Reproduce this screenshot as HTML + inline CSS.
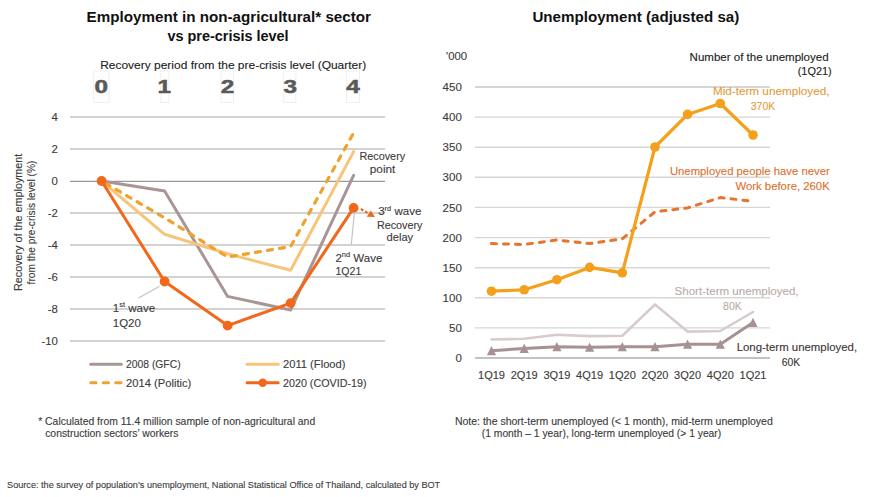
<!DOCTYPE html>
<html><head><meta charset="utf-8"><title>Employment and unemployment</title>
<style>
html,body{margin:0;padding:0;background:#fff;}
body{width:870px;height:497px;overflow:hidden;}
svg{display:block;font-family:"Liberation Sans", Arial, sans-serif;}
</style></head>
<body>
<svg width="870" height="497" viewBox="0 0 870 497">
<rect width="870" height="497" fill="#fff"/>
<text x="86.6" y="22.0" font-size="15" textLength="284.4" lengthAdjust="spacingAndGlyphs" font-weight="bold" fill="#111">Employment in non-agricultural* sector</text>
<text x="167.4" y="40.5" font-size="15" textLength="121.2" lengthAdjust="spacingAndGlyphs" font-weight="bold" fill="#111">vs pre-crisis level</text>
<text x="100.2" y="68.8" font-size="11.8" textLength="266.0" lengthAdjust="spacingAndGlyphs" fill="#222" stroke="#222" stroke-width="0.12">Recovery period from the pre-crisis level (Quarter)</text>
<rect x="93.8" y="71.0" width="15.2" height="31.5" fill="none" stroke="#efefef" stroke-width="1"/>
<text transform="translate(101.3,93.2) scale(1.35,1)" text-anchor="middle" font-size="18" font-weight="bold" fill="#595959" stroke="#595959" stroke-width="0.5">0</text>
<rect x="160.8" y="71.0" width="8.2" height="31.5" fill="none" stroke="#efefef" stroke-width="1"/>
<text transform="translate(164.2,93.2) scale(1.35,1)" text-anchor="middle" font-size="18" font-weight="bold" fill="#595959" stroke="#595959" stroke-width="0.5">1</text>
<rect x="221.2" y="71.0" width="12.2" height="31.5" fill="none" stroke="#efefef" stroke-width="1"/>
<text transform="translate(227.5,93.2) scale(1.35,1)" text-anchor="middle" font-size="18" font-weight="bold" fill="#595959" stroke="#595959" stroke-width="0.5">2</text>
<rect x="283.7" y="71.0" width="12.2" height="31.5" fill="none" stroke="#efefef" stroke-width="1"/>
<text transform="translate(290.3,93.2) scale(1.35,1)" text-anchor="middle" font-size="18" font-weight="bold" fill="#595959" stroke="#595959" stroke-width="0.5">3</text>
<rect x="346.6" y="71.0" width="12.8" height="31.5" fill="none" stroke="#efefef" stroke-width="1"/>
<text transform="translate(353.0,93.2) scale(1.35,1)" text-anchor="middle" font-size="18" font-weight="bold" fill="#595959" stroke="#595959" stroke-width="0.5">4</text>
<line x1="70" y1="117" x2="385" y2="117" stroke="#d2d2d2" stroke-width="2"/>
<text x="57.9" y="121.1" font-size="11.4" text-anchor="end" fill="#3b3b3b" stroke="#3b3b3b" stroke-width="0.12">4</text>
<line x1="70" y1="149" x2="385" y2="149" stroke="#d2d2d2" stroke-width="2"/>
<text x="57.9" y="153.1" font-size="11.4" text-anchor="end" fill="#3b3b3b" stroke="#3b3b3b" stroke-width="0.12">2</text>
<line x1="70" y1="181.3" x2="385" y2="181.3" stroke="#999" stroke-width="1.3"/>
<text x="57.9" y="185.1" font-size="11.4" text-anchor="end" fill="#3b3b3b" stroke="#3b3b3b" stroke-width="0.12">0</text>
<line x1="70" y1="213" x2="385" y2="213" stroke="#d2d2d2" stroke-width="2"/>
<text x="57.9" y="217.1" font-size="11.4" text-anchor="end" fill="#3b3b3b" stroke="#3b3b3b" stroke-width="0.12">-2</text>
<line x1="70" y1="245" x2="385" y2="245" stroke="#d2d2d2" stroke-width="2"/>
<text x="57.9" y="249.1" font-size="11.4" text-anchor="end" fill="#3b3b3b" stroke="#3b3b3b" stroke-width="0.12">-4</text>
<line x1="70" y1="277" x2="385" y2="277" stroke="#d2d2d2" stroke-width="2"/>
<text x="57.9" y="281.1" font-size="11.4" text-anchor="end" fill="#3b3b3b" stroke="#3b3b3b" stroke-width="0.12">-6</text>
<line x1="70" y1="309" x2="385" y2="309" stroke="#d2d2d2" stroke-width="2"/>
<text x="57.9" y="313.1" font-size="11.4" text-anchor="end" fill="#3b3b3b" stroke="#3b3b3b" stroke-width="0.12">-8</text>
<line x1="70" y1="341" x2="385" y2="341" stroke="#d2d2d2" stroke-width="2"/>
<text x="57.9" y="345.1" font-size="11.4" text-anchor="end" fill="#3b3b3b" stroke="#3b3b3b" stroke-width="0.12">-10</text>
<text transform="translate(21.9,222.4) rotate(-90)" text-anchor="middle" font-size="11.2" fill="#3b3b3b" stroke="#3b3b3b" stroke-width="0.12" textLength="137.3" lengthAdjust="spacingAndGlyphs">Recovery of the employment</text>
<text transform="translate(35.2,222.5) rotate(-90)" text-anchor="middle" font-size="11.2" fill="#3b3b3b" stroke="#3b3b3b" stroke-width="0.12" textLength="123.8" lengthAdjust="spacingAndGlyphs">from the pre-crisis level (%)</text>
<polyline points="101.6,181.0 164.6,191.1 227.6,296.4 290.6,310.0 353.6,175.4" fill="none" stroke="#a89696" stroke-width="3" stroke-linecap="round" stroke-linejoin="round"/>
<polyline points="101.6,181.0 164.6,234.3 227.6,253.8 290.6,270.3 353.6,151.6" fill="none" stroke="#f7c57a" stroke-width="3" stroke-linecap="round" stroke-linejoin="round"/>
<polyline points="352.6,134.7 290.6,246.6 227.6,257.0 164.6,217.8 101.6,181.0" fill="none" stroke="#f0a22e" stroke-width="3.2" stroke-linecap="round" stroke-linejoin="round" stroke-dasharray="5,7.2"/>
<line x1="159.5" y1="286.3" x2="138.6" y2="298.1" stroke="#c4c4c4" stroke-width="1.2"/>
<line x1="354.4" y1="212.7" x2="351.3" y2="244.3" stroke="#c4c4c4" stroke-width="1.2"/>
<polyline points="101.6,181.0 164.6,281.5 227.6,325.6 290.6,303.1 353.6,207.9" fill="none" stroke="#f2671a" stroke-width="3" stroke-linecap="round" stroke-linejoin="round"/>
<circle cx="101.6" cy="181.0" r="4.9" fill="#f2671a"/>
<circle cx="164.6" cy="281.5" r="4.9" fill="#f2671a"/>
<circle cx="227.6" cy="325.6" r="4.9" fill="#f2671a"/>
<circle cx="290.6" cy="303.1" r="4.9" fill="#f2671a"/>
<circle cx="353.6" cy="207.9" r="4.9" fill="#f2671a"/>
<line x1="360.8" y1="209.0" x2="368.2" y2="213.2" stroke="#f2671a" stroke-width="2.1" stroke-dasharray="3,1.8"/>
<polygon points="370.8,210.6 366.8,216.8 375.0,217.0" fill="#f2671a"/>
<text x="359.4" y="159.9" font-size="11.5" textLength="45.8" lengthAdjust="spacingAndGlyphs" fill="#3b3b3b" stroke="#3b3b3b" stroke-width="0.12">Recovery</text>
<text x="369.8" y="173.2" font-size="11.5" textLength="25.5" lengthAdjust="spacingAndGlyphs" fill="#3b3b3b" stroke="#3b3b3b" stroke-width="0.12">point</text>
<text x="378.2" y="215.2" font-size="11.5" fill="#3b3b3b" stroke="#3b3b3b" stroke-width="0.12">3<tspan font-size="7.5" dy="-4.2">rd</tspan><tspan dy="4.2"> wave</tspan></text>
<text x="376.9" y="228.5" font-size="11.5" textLength="45.6" lengthAdjust="spacingAndGlyphs" fill="#3b3b3b" stroke="#3b3b3b" stroke-width="0.12">Recovery</text>
<text x="386.6" y="241.1" font-size="11.5" textLength="26.6" lengthAdjust="spacingAndGlyphs" fill="#3b3b3b" stroke="#3b3b3b" stroke-width="0.12">delay</text>
<text x="335.4" y="261.5" font-size="11.5" fill="#3b3b3b" stroke="#3b3b3b" stroke-width="0.12">2<tspan font-size="7.5" dy="-4.2">nd</tspan><tspan dy="4.2"> Wave</tspan></text>
<text x="335.4" y="275.1" font-size="11.5" textLength="25.9" lengthAdjust="spacingAndGlyphs" fill="#3b3b3b" stroke="#3b3b3b" stroke-width="0.12">1Q21</text>
<text x="112.8" y="311.6" font-size="11.5" fill="#3b3b3b" stroke="#3b3b3b" stroke-width="0.12">1<tspan font-size="7.5" dy="-4.2">st</tspan><tspan dy="4.2"> wave</tspan></text>
<text x="112.8" y="326.9" font-size="11.5" textLength="28.0" lengthAdjust="spacingAndGlyphs" fill="#3b3b3b" stroke="#3b3b3b" stroke-width="0.12">1Q20</text>
<line x1="90.7" y1="364.3" x2="121.2" y2="364.3" stroke="#a89696" stroke-width="3" stroke-linecap="round"/>
<text x="126.0" y="368.4" font-size="11.2" textLength="54.6" lengthAdjust="spacingAndGlyphs" fill="#3b3b3b" stroke="#3b3b3b" stroke-width="0.12">2008 (GFC)</text>
<line x1="247.1" y1="364.3" x2="278.2" y2="364.3" stroke="#f7c57a" stroke-width="3" stroke-linecap="round"/>
<text x="283.0" y="368.4" font-size="11.2" textLength="62.5" lengthAdjust="spacingAndGlyphs" fill="#3b3b3b" stroke="#3b3b3b" stroke-width="0.12">2011 (Flood)</text>
<line x1="90.7" y1="382.7" x2="121" y2="382.7" stroke="#f0a22e" stroke-width="3" stroke-linecap="round" stroke-dasharray="5.3,7.2"/>
<text x="126.0" y="386.8" font-size="11.2" textLength="65.3" lengthAdjust="spacingAndGlyphs" fill="#3b3b3b" stroke="#3b3b3b" stroke-width="0.12">2014 (Politic)</text>
<line x1="247.1" y1="382.7" x2="278.2" y2="382.7" stroke="#f2671a" stroke-width="3" stroke-linecap="round"/>
<circle cx="262.7" cy="382.7" r="4.2" fill="#f2671a"/>
<text x="283.0" y="386.8" font-size="11.2" textLength="83.5" lengthAdjust="spacingAndGlyphs" fill="#3b3b3b" stroke="#3b3b3b" stroke-width="0.12">2020 (COVID-19)</text>
<text x="38.2" y="425.2" font-size="10.2" textLength="277.0" lengthAdjust="spacingAndGlyphs" fill="#3b3b3b" stroke="#3b3b3b" stroke-width="0.12">* Calculated from 11.4 million sample of non-agricultural and</text>
<text x="45.2" y="437.4" font-size="10.2" textLength="133.3" lengthAdjust="spacingAndGlyphs" fill="#3b3b3b" stroke="#3b3b3b" stroke-width="0.12">construction sectors’ workers</text>
<text x="7.1" y="488.2" font-size="9.6" textLength="433.1" lengthAdjust="spacingAndGlyphs" fill="#3b3b3b" stroke="#3b3b3b" stroke-width="0.12">Source: the survey of population’s unemployment, National Statistical Office of Thailand, calculated by BOT</text>
<text x="532.4" y="22.0" font-size="15" textLength="206.9" lengthAdjust="spacingAndGlyphs" font-weight="bold" fill="#111">Unemployment (adjusted sa)</text>
<text x="445.7" y="60.4" font-size="11.5" textLength="21.4" lengthAdjust="spacingAndGlyphs" fill="#3b3b3b" stroke="#3b3b3b" stroke-width="0.12">’000</text>
<text x="689.6" y="60.6" font-size="11.2" textLength="139.0" lengthAdjust="spacingAndGlyphs" fill="#222" stroke="#222" stroke-width="0.12">Number of the unemployed</text>
<text x="797.7" y="75.3" font-size="11.2" textLength="34.0" lengthAdjust="spacingAndGlyphs" fill="#222" stroke="#222" stroke-width="0.12">(1Q21)</text>
<line x1="475" y1="358.0" x2="770" y2="358.0" stroke="#c2c2c2" stroke-width="1.8"/>
<text x="461.8" y="362.1" font-size="11.5" text-anchor="end" fill="#3b3b3b" stroke="#3b3b3b" stroke-width="0.12">0</text>
<line x1="475" y1="327.9" x2="770" y2="327.9" stroke="#d6d6d6" stroke-width="1.4"/>
<text x="461.8" y="332.0" font-size="11.5" text-anchor="end" fill="#3b3b3b" stroke="#3b3b3b" stroke-width="0.12">50</text>
<line x1="475" y1="297.8" x2="770" y2="297.8" stroke="#d6d6d6" stroke-width="1.4"/>
<text x="461.8" y="301.9" font-size="11.5" text-anchor="end" fill="#3b3b3b" stroke="#3b3b3b" stroke-width="0.12">100</text>
<line x1="475" y1="267.7" x2="770" y2="267.7" stroke="#d6d6d6" stroke-width="1.4"/>
<text x="461.8" y="271.8" font-size="11.5" text-anchor="end" fill="#3b3b3b" stroke="#3b3b3b" stroke-width="0.12">150</text>
<line x1="475" y1="237.6" x2="770" y2="237.6" stroke="#d6d6d6" stroke-width="1.4"/>
<text x="461.8" y="241.7" font-size="11.5" text-anchor="end" fill="#3b3b3b" stroke="#3b3b3b" stroke-width="0.12">200</text>
<line x1="475" y1="207.4" x2="770" y2="207.4" stroke="#d6d6d6" stroke-width="1.4"/>
<text x="461.8" y="211.5" font-size="11.5" text-anchor="end" fill="#3b3b3b" stroke="#3b3b3b" stroke-width="0.12">250</text>
<line x1="475" y1="177.3" x2="770" y2="177.3" stroke="#d6d6d6" stroke-width="1.4"/>
<text x="461.8" y="181.4" font-size="11.5" text-anchor="end" fill="#3b3b3b" stroke="#3b3b3b" stroke-width="0.12">300</text>
<line x1="475" y1="147.2" x2="770" y2="147.2" stroke="#d6d6d6" stroke-width="1.4"/>
<text x="461.8" y="151.3" font-size="11.5" text-anchor="end" fill="#3b3b3b" stroke="#3b3b3b" stroke-width="0.12">350</text>
<line x1="475" y1="117.1" x2="770" y2="117.1" stroke="#d6d6d6" stroke-width="1.4"/>
<text x="461.8" y="121.2" font-size="11.5" text-anchor="end" fill="#3b3b3b" stroke="#3b3b3b" stroke-width="0.12">400</text>
<line x1="475" y1="87.0" x2="770" y2="87.0" stroke="#d6d6d6" stroke-width="1.8"/>
<text x="461.8" y="91.1" font-size="11.5" text-anchor="end" fill="#3b3b3b" stroke="#3b3b3b" stroke-width="0.12">450</text>
<text x="491.5" y="378.9" font-size="11.2" text-anchor="middle" textLength="27.0" lengthAdjust="spacingAndGlyphs" fill="#3b3b3b" stroke="#3b3b3b" stroke-width="0.12">1Q19</text>
<text x="524.2" y="378.9" font-size="11.2" text-anchor="middle" textLength="27.0" lengthAdjust="spacingAndGlyphs" fill="#3b3b3b" stroke="#3b3b3b" stroke-width="0.12">2Q19</text>
<text x="556.9" y="378.9" font-size="11.2" text-anchor="middle" textLength="27.0" lengthAdjust="spacingAndGlyphs" fill="#3b3b3b" stroke="#3b3b3b" stroke-width="0.12">3Q19</text>
<text x="589.6" y="378.9" font-size="11.2" text-anchor="middle" textLength="27.0" lengthAdjust="spacingAndGlyphs" fill="#3b3b3b" stroke="#3b3b3b" stroke-width="0.12">4Q19</text>
<text x="622.3" y="378.9" font-size="11.2" text-anchor="middle" textLength="27.0" lengthAdjust="spacingAndGlyphs" fill="#3b3b3b" stroke="#3b3b3b" stroke-width="0.12">1Q20</text>
<text x="655.0" y="378.9" font-size="11.2" text-anchor="middle" textLength="27.0" lengthAdjust="spacingAndGlyphs" fill="#3b3b3b" stroke="#3b3b3b" stroke-width="0.12">2Q20</text>
<text x="687.6" y="378.9" font-size="11.2" text-anchor="middle" textLength="27.0" lengthAdjust="spacingAndGlyphs" fill="#3b3b3b" stroke="#3b3b3b" stroke-width="0.12">3Q20</text>
<text x="720.3" y="378.9" font-size="11.2" text-anchor="middle" textLength="27.0" lengthAdjust="spacingAndGlyphs" fill="#3b3b3b" stroke="#3b3b3b" stroke-width="0.12">4Q20</text>
<text x="753.0" y="378.9" font-size="11.2" text-anchor="middle" textLength="27.0" lengthAdjust="spacingAndGlyphs" fill="#3b3b3b" stroke="#3b3b3b" stroke-width="0.12">1Q21</text>
<polyline points="491.5,339.5 524.2,338.8 556.9,334.7 589.6,336.1 622.3,335.8 655.0,304.5 687.6,331.6 720.3,331.0 753.0,312.0" fill="none" stroke="#d8cbcb" stroke-width="2.6" stroke-linecap="round" stroke-linejoin="round"/>
<polyline points="491.5,350.8 524.2,348.4 556.9,346.7 589.6,347.3 622.3,346.7 655.0,346.7 687.6,344.3 720.3,344.3 753.0,322.6" fill="none" stroke="#a69292" stroke-width="3" stroke-linecap="round" stroke-linejoin="round"/>
<polygon points="491.5,346.0 486.9,355.3 496.1,355.3" fill="#a69292"/>
<polygon points="524.2,343.6 519.6,352.9 528.8,352.9" fill="#a69292"/>
<polygon points="556.9,341.9 552.3,351.2 561.5,351.2" fill="#a69292"/>
<polygon points="589.6,342.5 585.0,351.8 594.2,351.8" fill="#a69292"/>
<polygon points="622.3,341.9 617.7,351.2 626.9,351.2" fill="#a69292"/>
<polygon points="655.0,341.9 650.4,351.2 659.6,351.2" fill="#a69292"/>
<polygon points="687.6,339.5 683.0,348.8 692.2,348.8" fill="#a69292"/>
<polygon points="720.3,339.5 715.7,348.8 724.9,348.8" fill="#a69292"/>
<polygon points="753.0,317.8 748.4,327.1 757.6,327.1" fill="#a69292"/>
<polyline points="491.5,243.6 524.2,244.5 556.9,240.0 589.6,243.6 622.3,238.8 655.0,211.8 687.6,207.9 720.3,197.6 753.0,201.3" fill="none" stroke="#e8742c" stroke-width="3" stroke-linecap="round" stroke-linejoin="round" stroke-dasharray="5,7"/>
<polyline points="491.5,291.2 524.2,289.8 556.9,279.7 589.6,267.4 622.3,272.8 655.0,147.0 687.6,114.4 720.3,103.5 753.0,135.0" fill="none" stroke="#f5a01b" stroke-width="3.2" stroke-linecap="round" stroke-linejoin="round"/>
<circle cx="491.5" cy="291.2" r="4.8" fill="#f5a01b"/>
<circle cx="524.2" cy="289.8" r="4.8" fill="#f5a01b"/>
<circle cx="556.9" cy="279.7" r="4.8" fill="#f5a01b"/>
<circle cx="589.6" cy="267.4" r="4.8" fill="#f5a01b"/>
<circle cx="622.3" cy="272.8" r="4.8" fill="#f5a01b"/>
<circle cx="655.0" cy="147.0" r="4.8" fill="#f5a01b"/>
<circle cx="687.6" cy="114.4" r="4.8" fill="#f5a01b"/>
<circle cx="720.3" cy="103.5" r="4.8" fill="#f5a01b"/>
<circle cx="753.0" cy="135.0" r="4.8" fill="#f5a01b"/>
<text x="712.9" y="95.3" font-size="11.4" textLength="116.6" lengthAdjust="spacingAndGlyphs" fill="#e59c3c" stroke="#e59c3c" stroke-width="0.12">Mid-term unemployed,</text>
<text x="750.7" y="109.8" font-size="11.4" textLength="24.6" lengthAdjust="spacingAndGlyphs" fill="#e59c3c" stroke="#e59c3c" stroke-width="0.12">370K</text>
<text x="669.9" y="175.3" font-size="11.4" textLength="159.8" lengthAdjust="spacingAndGlyphs" fill="#e0702e" stroke="#e0702e" stroke-width="0.12">Unemployed people have never</text>
<text x="735.5" y="189.8" font-size="11.4" textLength="94.2" lengthAdjust="spacingAndGlyphs" fill="#e0702e" stroke="#e0702e" stroke-width="0.12">Work before, 260K</text>
<text x="674.5" y="294.9" font-size="11.4" textLength="124.1" lengthAdjust="spacingAndGlyphs" fill="#bcaaaa" stroke="#bcaaaa" stroke-width="0.12">Short-term unemployed,</text>
<text x="723.1" y="309.6" font-size="11.4" textLength="18.6" lengthAdjust="spacingAndGlyphs" fill="#bcaaaa" stroke="#bcaaaa" stroke-width="0.12">80K</text>
<text x="736.7" y="351.0" font-size="11.4" textLength="120.4" lengthAdjust="spacingAndGlyphs" fill="#3e3535" stroke="#3e3535" stroke-width="0.12">Long-term unemployed,</text>
<text x="781.7" y="365.9" font-size="11.4" textLength="18.5" lengthAdjust="spacingAndGlyphs" fill="#3e3535" stroke="#3e3535" stroke-width="0.12">60K</text>
<text x="454.9" y="425.1" font-size="10.0" textLength="317.9" lengthAdjust="spacingAndGlyphs" fill="#3b3b3b" stroke="#3b3b3b" stroke-width="0.12">Note: the short-term unemployed (&lt; 1 month), mid-term unemployed</text>
<text x="481.8" y="437.2" font-size="10.0" textLength="239.4" lengthAdjust="spacingAndGlyphs" fill="#3b3b3b" stroke="#3b3b3b" stroke-width="0.12">(1 month – 1 year), long-term unemployed (&gt; 1 year)</text>
</svg>
</body></html>
